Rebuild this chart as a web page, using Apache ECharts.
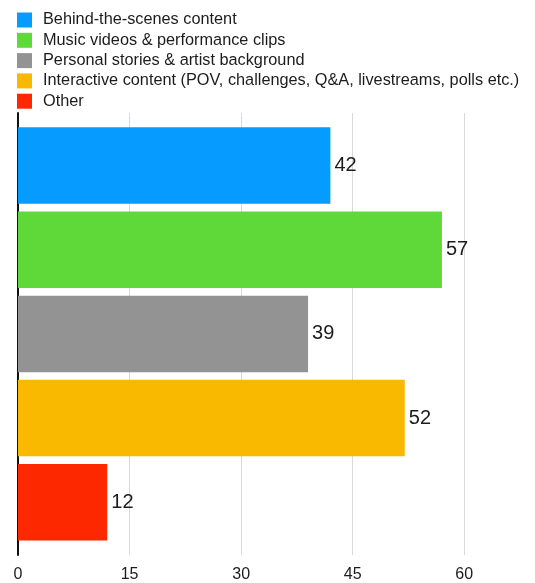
<!DOCTYPE html>
<html>
<head>
<meta charset="utf-8">
<style>
  html, body { margin: 0; padding: 0; background: #fff; }
  #chart { width: 535px; height: 583px; }
</style>
<script src="https://cdn.jsdelivr.net/npm/echarts@6/dist/echarts.min.js"></script>
</head>
<body>
<div id="chart"></div>
<script>
// Content types and their counts
const categories = [
  'Behind-the-scenes content',
  'Music videos & performance clips',
  'Personal stories & artist background',
  'Interactive content (POV, challenges, Q&A, livestreams, polls etc.)',
  'Other'
];
const values = [42, 57, 39, 52, 12];
const colors = ['#059bff', '#5fd83a', '#939393', '#f8b900', '#fd2700'];
const xTicks = [0, 15, 30, 45, 60];

const FONT = '"Liberation Sans", Arial, Helvetica, sans-serif';
const AXIS_MAX = 69;
const TICK_STEP = xTicks[1] - xTicks[0];

// One series per category so each gets its own legend entry; stacking keeps
// every bar in the same single slot of its row.
const series = categories.map((name, i) => ({
  name: name,
  type: 'bar',
  xAxisIndex: 1,
  yAxisIndex: 1,
  stack: 'all',
  barWidth: 76.5,
  itemStyle: { color: colors[i] },
  label: {
    show: true,
    position: 'right',
    distance: 4,
    fontFamily: FONT,
    fontSize: 20,
    color: '#1c1c1c',
    formatter: p => p.value
  },
  data: categories.map((c, j) => (j === i ? values[i] : '-'))
}));

const chart = echarts.init(document.getElementById('chart'), null, { renderer: 'canvas' });
chart.setOption({
  backgroundColor: '#ffffff',
  animation: false,
  legend: {
    orient: 'vertical',
    left: 12,
    top: 7,
    itemWidth: 15,
    itemHeight: 15,
    itemGap: 4.3,
    icon: 'rect',
    selectedMode: false,
    data: categories,
    textStyle: {
      fontFamily: FONT,
      fontSize: 16.3,
      lineHeight: 15,
      color: '#1c1c1c',
      padding: [0, 0, 0, 6]
    }
  },
  grid: [
    // frame: vertical axis line, gridlines and tick labels
    { left: 18, right: 3.8, top: 113, bottom: 26 },
    // bars
    { left: 18, right: 3.8, top: 123.4, bottom: 38.6 }
  ],
  xAxis: [
    {
      gridIndex: 0,
      type: 'value',
      min: 0,
      max: AXIS_MAX,
      interval: TICK_STEP,
      axisLine: { show: false },
      axisTick: { show: false },
      axisLabel: {
        showMaxLabel: false,
        margin: 12,
        fontFamily: FONT,
        fontSize: 16,
        color: '#1c1c1c',
        formatter: v => (xTicks.indexOf(v) >= 0 ? String(v) : '')
      },
      splitLine: {
        show: true,
        showMaxLine: false,
        lineStyle: { color: '#d9d9d9', width: 1 }
      }
    },
    {
      gridIndex: 1,
      type: 'value',
      min: 0,
      max: AXIS_MAX,
      show: false
    }
  ],
  yAxis: [
    {
      gridIndex: 0,
      type: 'value',
      min: 0,
      max: 1,
      axisLine: { show: true, onZero: false, lineStyle: { color: '#111111', width: 2 } },
      axisTick: { show: false },
      axisLabel: { show: false },
      splitLine: { show: false }
    },
    {
      gridIndex: 1,
      type: 'category',
      inverse: true,
      data: categories,
      show: false
    }
  ],
  series: series
});
</script>
</body>
</html>
